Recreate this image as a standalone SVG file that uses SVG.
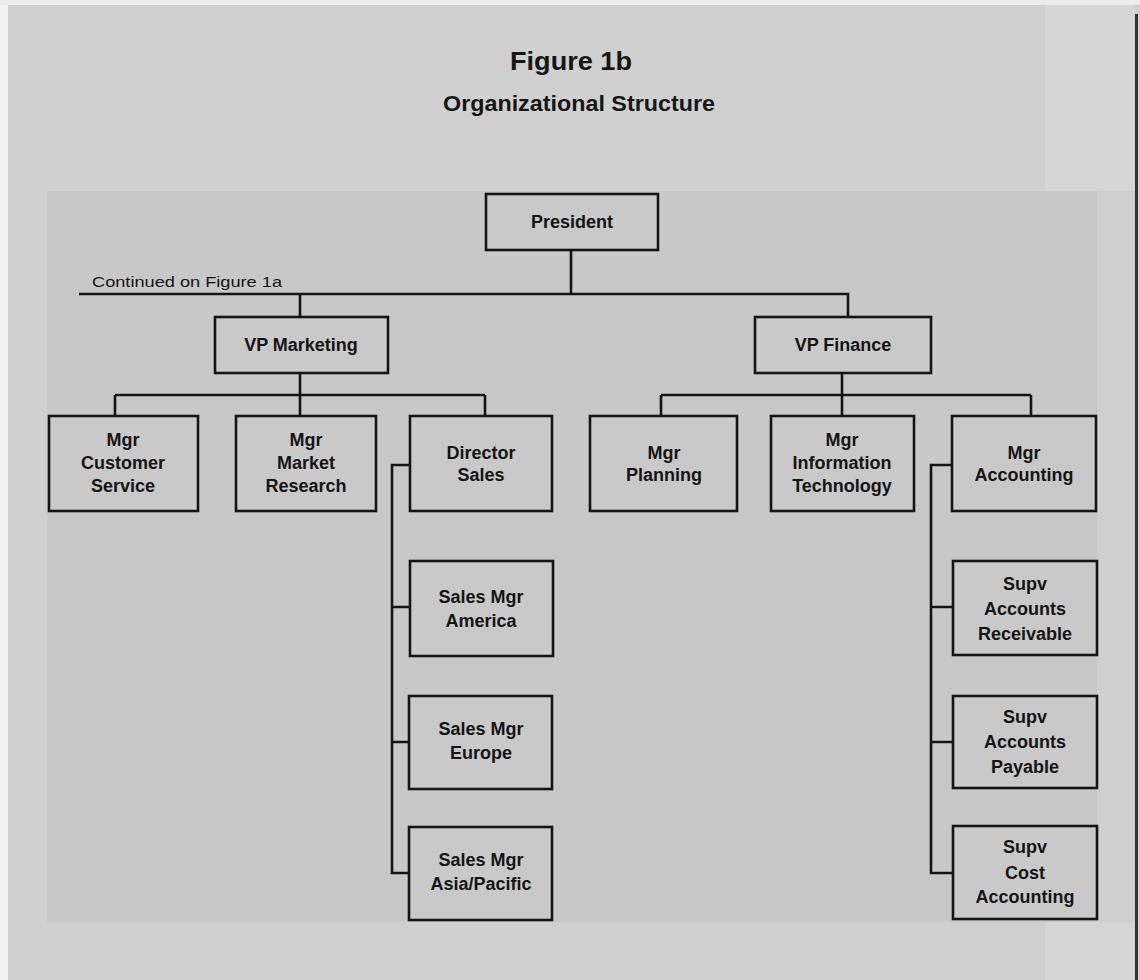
<svg xmlns="http://www.w3.org/2000/svg" width="1140" height="980" viewBox="0 0 1140 980">
<style>
.box{fill:#c9c9c9;stroke:#141414;stroke-width:2.6}
.ln{fill:none;stroke:#141414;stroke-width:2.6}
.t{font-family:"Liberation Sans",Arial,sans-serif;font-weight:bold;font-size:18px;fill:#141414;text-anchor:middle}
.title{font-family:"Liberation Sans",Arial,sans-serif;font-weight:bold;fill:#161616;text-anchor:middle}
.note{font-family:"Liberation Sans",Arial,sans-serif;font-size:14px;fill:#141414}
</style>
<rect x="0" y="0" width="1140" height="980" fill="#d0d0d0"/>
<rect x="0" y="0" width="8" height="980" fill="#f2f2f2"/>
<rect x="0" y="0" width="1140" height="5" fill="#ececec"/>
<rect x="1045" y="5" width="90" height="975" fill="#d6d6d6"/>
<rect x="47" y="191" width="1050" height="731" fill="#c8c8c8"/>
<rect x="1097" y="191" width="38" height="731" fill="#cfcfcf"/>
<rect x="1135" y="14" width="3" height="966" fill="#333"/>

<g id="title">
<text class="title" x="571" y="70" font-size="26" textLength="122" lengthAdjust="spacingAndGlyphs">Figure 1b</text>
<text class="title" x="579" y="111" font-size="22" textLength="272" lengthAdjust="spacingAndGlyphs">Organizational Structure</text>
</g>

<g id="connectors">
<path class="ln" d="M571 250 V294 M79 294 H848 V317 M300 294 V317"/>
<path class="ln" d="M300 373 V395 M115 395 H485 M115 395 V416 M300 395 V416 M485 395 V416"/>
<path class="ln" d="M842 373 V395 M661 395 H1031 M661 395 V416 M842 395 V416 M1031 395 V416"/>
<path class="ln" d="M410 465 H392 V873 H409 M392 607 H410 M392 742 H409"/>
<path class="ln" d="M952 465 H931 V873 H953 M931 607 H953 M931 742 H953"/>
</g>
<text class="note" x="92" y="287" textLength="190" lengthAdjust="spacingAndGlyphs">Continued on Figure 1a</text>

<g id="president"><rect class="box" x="486" y="194" width="172" height="56"/><text class="t" x="572" y="228">President</text></g>
<g id="vp-marketing"><rect class="box" x="215" y="317" width="173" height="56"/><text class="t" x="301" y="351">VP Marketing</text></g>
<g id="vp-finance"><rect class="box" x="755" y="317" width="176" height="56"/><text class="t" x="843" y="351">VP Finance</text></g>

<g id="mgr-customer-service"><rect class="box" x="49" y="416" width="149" height="95"/><text class="t" x="123" y="446">Mgr</text><text class="t" x="123" y="469">Customer</text><text class="t" x="123" y="492">Service</text></g>
<g id="mgr-market-research"><rect class="box" x="236" y="416" width="140" height="95"/><text class="t" x="306" y="446">Mgr</text><text class="t" x="306" y="469">Market</text><text class="t" x="306" y="492">Research</text></g>
<g id="director-sales"><rect class="box" x="410" y="416" width="142" height="95"/><text class="t" x="481" y="459">Director</text><text class="t" x="481" y="481">Sales</text></g>
<g id="mgr-planning"><rect class="box" x="590" y="416" width="147" height="95"/><text class="t" x="664" y="459">Mgr</text><text class="t" x="664" y="481">Planning</text></g>
<g id="mgr-it"><rect class="box" x="771" y="416" width="143" height="95"/><text class="t" x="842" y="446">Mgr</text><text class="t" x="842" y="469">Information</text><text class="t" x="842" y="492">Technology</text></g>
<g id="mgr-accounting"><rect class="box" x="952" y="416" width="144" height="95"/><text class="t" x="1024" y="459">Mgr</text><text class="t" x="1024" y="481">Accounting</text></g>

<g id="sales-mgr-america"><rect class="box" x="410" y="561" width="143" height="95"/><text class="t" x="481" y="603">Sales Mgr</text><text class="t" x="481" y="627">America</text></g>
<g id="sales-mgr-europe"><rect class="box" x="409" y="696" width="143" height="93"/><text class="t" x="481" y="735">Sales Mgr</text><text class="t" x="481" y="759">Europe</text></g>
<g id="sales-mgr-asia-pacific"><rect class="box" x="409" y="827" width="143" height="93"/><text class="t" x="481" y="866">Sales Mgr</text><text class="t" x="481" y="890">Asia/Pacific</text></g>

<g id="supv-ar"><rect class="box" x="953" y="561" width="144" height="94"/><text class="t" x="1025" y="590">Supv</text><text class="t" x="1025" y="615">Accounts</text><text class="t" x="1025" y="640">Receivable</text></g>
<g id="supv-ap"><rect class="box" x="953" y="696" width="144" height="92"/><text class="t" x="1025" y="723">Supv</text><text class="t" x="1025" y="748">Accounts</text><text class="t" x="1025" y="773">Payable</text></g>
<g id="supv-cost"><rect class="box" x="953" y="826" width="144" height="93"/><text class="t" x="1025" y="853">Supv</text><text class="t" x="1025" y="879">Cost</text><text class="t" x="1025" y="903">Accounting</text></g>
</svg>
